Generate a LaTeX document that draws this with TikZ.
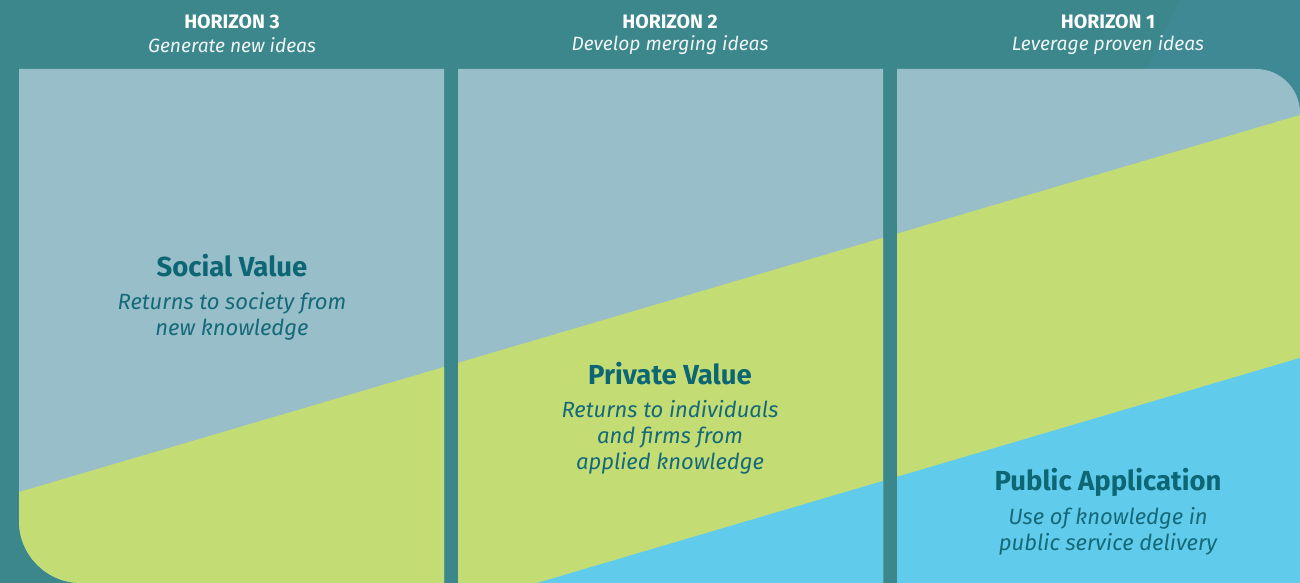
\documentclass[tikz,border=0pt]{standalone}
\usepackage{fontspec}
\setmainfont{Fira Sans}
\definecolor{bgteal}{HTML}{3C878B}
\definecolor{bgtealb}{HTML}{3F8995}
\definecolor{greyblue}{HTML}{97BEC9}
\definecolor{lime}{HTML}{C4DC74}
\definecolor{sky}{HTML}{60CBEB}
\definecolor{darkteal}{HTML}{0D6674}
\definecolor{bodyteal}{HTML}{156A79}
\begin{document}
\begin{tikzpicture}[x=1pt,y=-1pt,
  hhead/.style={text=white,font=\fontsize{19.5}{21}\selectfont\bfseries,inner sep=0pt},
  hsub/.style={text=white!92!bgteal,font=\fontsize{19.2}{21}\selectfont\itshape,inner sep=0pt},
  vtitle/.style={text=darkteal,font=\fontsize{27.5}{30}\selectfont\bfseries,inner sep=0pt},
  vbody/.style={text=bodyteal,font=\fontsize{22}{26}\selectfont\itshape,align=center,inner sep=0pt}]
\useasboundingbox (0,0) rectangle (1300,583);
\fill[bgteal] (0,0) rectangle (1300,583);
\fill[bgtealb] (1180,0) -- (1300,0) -- (1300,130) -- (1118,130) -- cycle;
% panels
\begin{scope}
\clip (19,69) -- (444,69) -- (444,583) -- (81,583)
      .. controls (46.8,583) and (19,555.2) .. (19,521) -- cycle
      (458,69) rectangle (883,583)
      (897,69) -- (1256,69) .. controls (1280.3,69) and (1300,88.7) .. (1300,113) -- (1300,583) -- (897,583) -- cycle;
\fill[greyblue] (0,0) rectangle (1300,583);
\fill[lime] (0,497.6) -- (1300,115) -- (1300,583) -- (0,583) -- cycle;
\fill[sky] (0,741.4) -- (1300,357.9) -- (1300,583) -- (0,583) -- cycle;
\end{scope}
% headers
\node[hhead] (h3) at (232,22) {HORIZON 3};
\node[hsub] (s3) at (232,45) {Generate new ideas};
\node[hhead] (h2) at (670,22) {HORIZON 2};
\node[hsub] (s2) at (670,45) {Develop merging ideas};
\node[hhead] (h1) at (1108,22) {HORIZON 1};
\node[hsub] (s1) at (1108,45) {Leverage proven ideas};
% values
\node[vtitle] (t1) at (232,266) {Social Value};
\node[vbody] (b1) at (232,316) {Returns to society from\\new knowledge};
\node[vtitle] (t2) at (670,374) {Private Value};
\node[vbody] (b2) at (670,437) {Returns to individuals\\and firms from\\applied knowledge};
\node[vtitle] (t3) at (1108,482) {Public Application};
\node[vbody] (b3) at (1108,531.5) {Use of knowledge in\\public service delivery};
\end{tikzpicture}
\end{document}
